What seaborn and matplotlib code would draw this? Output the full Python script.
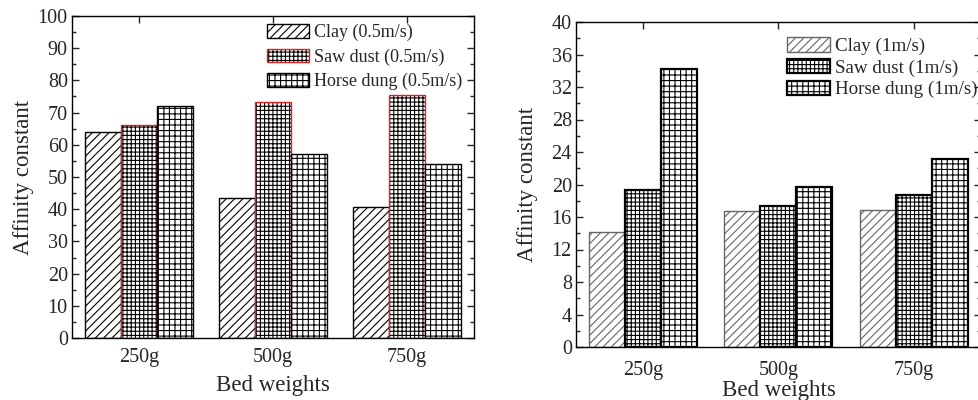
import matplotlib
matplotlib.use("Agg")
import matplotlib.pyplot as plt
from matplotlib.ticker import MultipleLocator
import seaborn as sns
import pandas as pd

categories = ["250g", "500g", "750g"]
series_left = ["Clay (0.5m/s)", "Saw dust (0.5m/s)", "Horse dung (0.5m/s)"]
clay_05 = [64.0, 43.5, 40.8]
saw_05 = [66.3, 73.2, 75.4]
horse_05 = [72.0, 57.2, 54.0]
series_right = ["Clay (1m/s)", "Saw dust (1m/s)", "Horse dung (1m/s)"]
clay_1 = [14.1, 16.7, 16.9]
saw_1 = [19.3, 17.4, 18.7]
horse_1 = [34.2, 19.7, 23.2]

sns.set_style("ticks")
plt.rcParams["font.family"] = ["Liberation Serif", "DejaVu Serif"]
plt.rcParams["hatch.linewidth"] = 0.8


def long_df(names, vals):
    rows = []
    for n, v in zip(names, vals):
        for c, y in zip(categories, v):
            rows.append({"cat": c, "series": n, "val": y})
    return pd.DataFrame(rows)


fig = plt.figure(figsize=(9.79, 4.0), dpi=100)
axL = fig.add_axes([72 / 979, 62 / 400, 402 / 979, 322 / 400])
axR = fig.add_axes([576 / 979, 53 / 400, 405 / 979, 325 / 400])

dfL = long_df(series_left, [clay_05, saw_05, horse_05])
dfR = long_df(series_right, [clay_1, saw_1, horse_1])

for ax, df, names in [(axL, dfL, series_left), (axR, dfR, series_right)]:
    sns.barplot(data=df, x="cat", y="val", hue="series", hue_order=names,
                order=categories, palette=["white"] * 3, ax=ax,
                edgecolor="black", linewidth=1.0, legend=False, width=0.8,
                errorbar=None, saturation=1)

# left styles
hatL = ["////", "++++", "+++"]
for i, cont in enumerate(axL.containers):
    for p in cont:
        p.set_hatch(hatL[i])
        p.set_facecolor("white")
        if i == 1:
            p.set_edgecolor("#e02020")
            p._hatch_color = (0, 0, 0, 1)
        else:
            p.set_edgecolor("black")

hatR = ["////", "++++", "+++"]
for i, cont in enumerate(axR.containers):
    for p in cont:
        p.set_hatch(hatR[i])
        p.set_facecolor("white")
        if i == 0:
            p.set_edgecolor("#666666")
            p.set_linewidth(1.0)
        else:
            p.set_edgecolor("black")
            p.set_linewidth(1.6)

for ax, top, major, minor, xpad in [(axL, 100, 10, 5, 7), (axR, 40, 4, 2, 10)]:
    ax.set_xlim(-0.5, 2.5)
    ax.set_ylim(0, top)
    ax.yaxis.set_major_locator(MultipleLocator(major))
    ax.yaxis.set_minor_locator(MultipleLocator(minor))
    ax.tick_params(axis="y", which="major", direction="in", length=5, width=1,
                   left=True, right=True, labelsize=14.5, pad=3)
    ax.tick_params(axis="y", which="minor", direction="in", length=3, width=1,
                   left=True, right=True)
    ax.tick_params(axis="x", which="major", direction="in", length=5, width=1,
                   top=True, bottom=True, labelsize=14.5, pad=xpad)
    for s in ax.spines.values():
        s.set_visible(True)
        s.set_linewidth(1.0)
        s.set_color("black")

axL.set_ylabel("Affinity constant", fontsize=16.5, labelpad=3)
axR.set_ylabel("Affinity constant", fontsize=16.5, labelpad=10)
axL.set_xlabel("Bed weights", fontsize=16.5, labelpad=6)
axR.set_xlabel("Bed weights", fontsize=16.5, labelpad=0)
axR.spines["right"].set_visible(False)

legL = axL.legend(handles=axL.containers, labels=series_left, loc="upper left",
                  bbox_to_anchor=((269 - 72) / 402 - 0.005, 1 - (24 - 16) / 322),
                  frameon=False, fontsize=13, handlelength=2.3, handleheight=0.75,
                  handletextpad=0.3, labelspacing=0.4, borderaxespad=0, borderpad=0)
legR = axR.legend(handles=axR.containers, labels=series_right, loc="upper left",
                  bbox_to_anchor=((789 - 576) / 405 - 0.005, 1 - (37 - 22) / 325),
                  frameon=False, fontsize=13.7, handlelength=2.25, handleheight=0.8,
                  handletextpad=0.3, labelspacing=0.2, borderaxespad=0, borderpad=0)

fig.savefig("out.png", dpi=100)
